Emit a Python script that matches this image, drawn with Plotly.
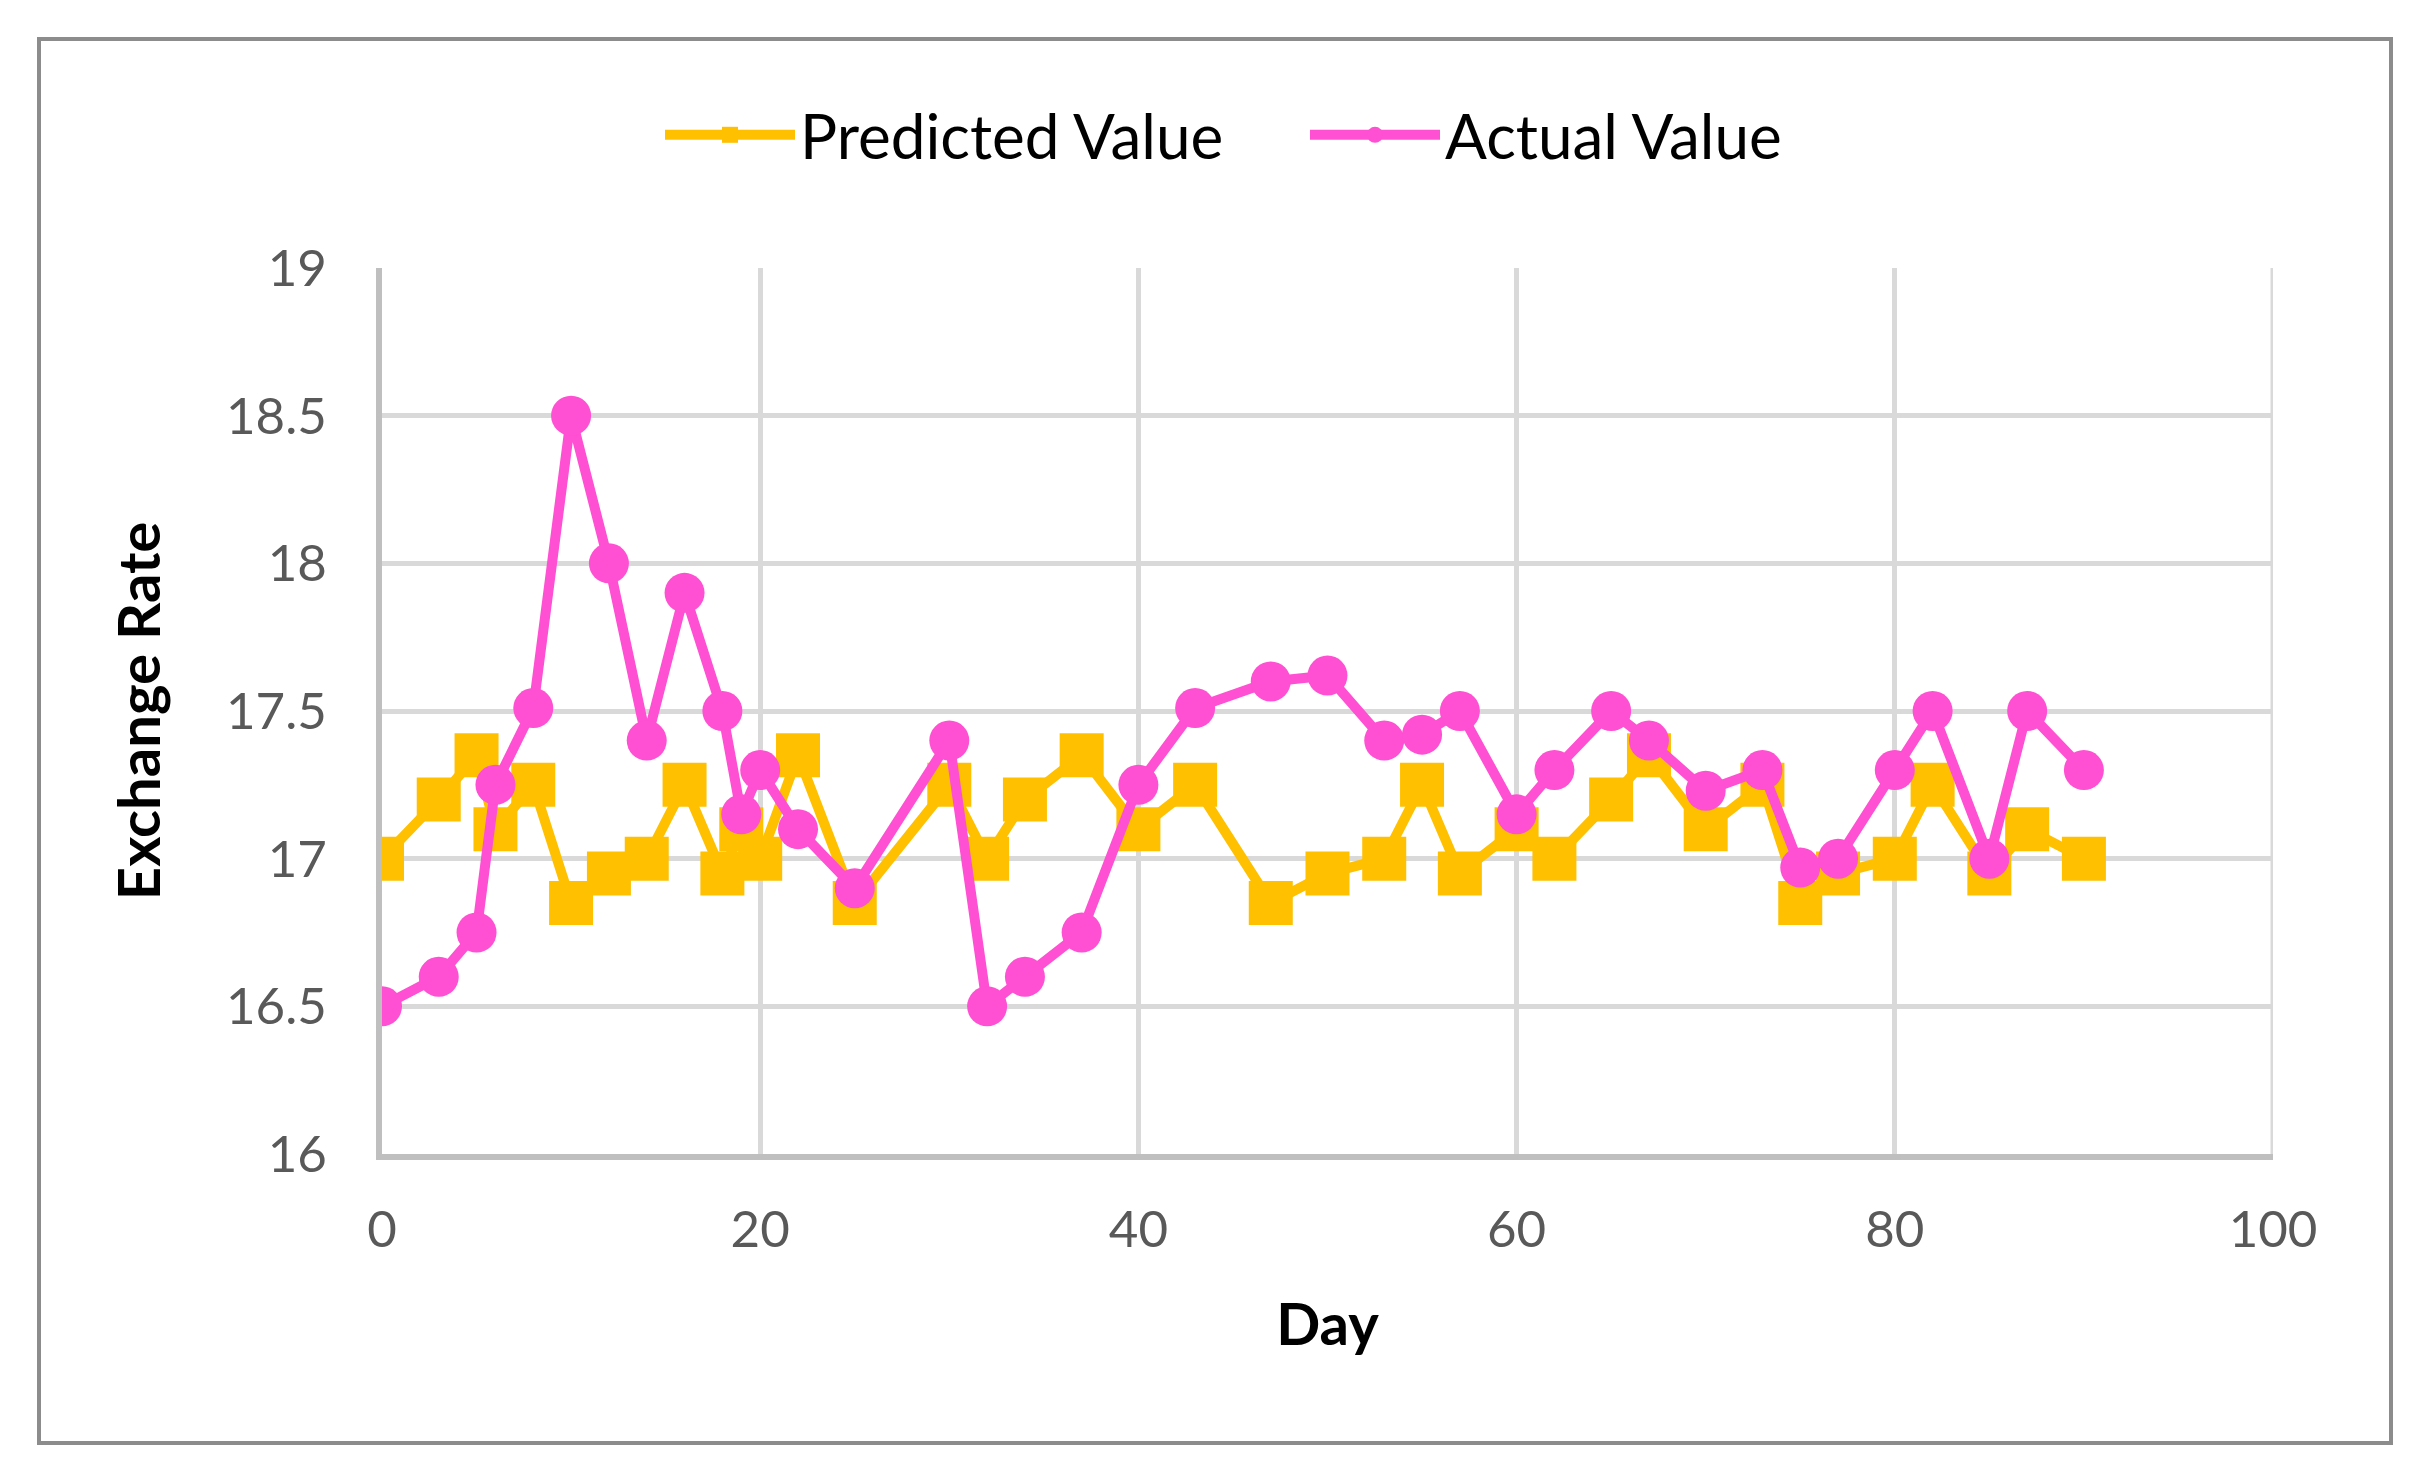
import plotly.graph_objects as go

# Day index shared by both series
days = [0, 3, 5, 6, 8, 10, 12, 14, 16, 18, 19, 20, 22, 25, 30, 32, 34, 37, 40,
        43, 47, 50, 53, 55, 57, 60, 62, 65, 67, 70, 73, 75, 77, 80, 82, 85, 87, 90]

predicted = [17.0, 17.2, 17.35, 17.1, 17.25, 16.85, 16.95, 17.0, 17.25, 16.95,
             17.1, 17.0, 17.35, 16.85, 17.25, 17.0, 17.2, 17.35, 17.1, 17.25,
             16.85, 16.95, 17.0, 17.25, 16.95, 17.1, 17.0, 17.2, 17.35, 17.1,
             17.25, 16.85, 16.95, 17.0, 17.25, 16.95, 17.1, 17.0]

actual = [16.5, 16.6, 16.75, 17.25, 17.51, 18.5, 18.0, 17.4, 17.9, 17.5,
          17.15, 17.3, 17.1, 16.9, 17.4, 16.5, 16.6, 16.75, 17.25, 17.51,
          17.6, 17.62, 17.4, 17.42, 17.5, 17.15, 17.3, 17.5, 17.4, 17.23,
          17.3, 16.97, 17.0, 17.3, 17.5, 17.0, 17.5, 17.3]

x_ticks = [0, 20, 40, 60, 80, 100]
y_ticks = [16, 16.5, 17, 17.5, 18, 18.5, 19]

YELLOW = "#FFC000"
PINK = "#FF4FD2"
FONT = "Lato"
GRID = "#D9D9D9"

# page body has an 8px margin, so the figure is shrunk to fit the window
W, H = 2417, 1463
OFF = 8
L, R, T, B = 374, 152, 260, 317
plot_w = W - L - R
plot_h = H - T - B

fig = go.Figure()

fig.add_trace(go.Scatter(
    x=days, y=predicted, name="Predicted Value",
    mode="lines+markers",
    line=dict(color=YELLOW, width=10),
    marker=dict(symbol="square", size=44, color=YELLOW),
))

fig.add_trace(go.Scatter(
    x=days, y=actual, name="Actual Value",
    mode="lines+markers",
    line=dict(color=PINK, width=10),
    marker=dict(symbol="circle", size=40, color=PINK),
))

fig.update_xaxes(
    range=[0, 100], tickvals=x_ticks,
    showgrid=True, gridcolor=GRID, gridwidth=5,
    showline=True, linecolor="#BFBFBF", linewidth=6,
    zeroline=False,
    ticks="outside", ticklen=26, tickcolor="rgba(0,0,0,0)",
    tickfont=dict(family=FONT, size=51, color="#595959"),
    title=dict(text="<b>Day</b>", font=dict(family=FONT, size=58, color="black"),
               standoff=49),
)

fig.update_yaxes(
    range=[16, 19], tickvals=y_ticks, ticktext=[f"{v:g}" for v in y_ticks],
    showgrid=True, gridcolor=GRID, gridwidth=5,
    showline=True, linecolor="#BFBFBF", linewidth=6,
    zeroline=False,
    ticks="outside", ticklen=39, tickcolor="rgba(0,0,0,0)",
    tickfont=dict(family=FONT, size=51, color="#595959"),
    title=dict(text="<b>Exchange Rate</b>", font=dict(family=FONT, size=58, color="black"),
               standoff=49),
)

# gridline at the right edge (x = 100), which plotly skips at the range end
fig.add_vline(x=x_ticks[-1], line=dict(color=GRID, width=5), layer="below")

# outer chart frame (window pixel coordinates converted to paper)
fx0, fx1, fy0, fy1 = 39, 2391, 39, 1443
fig.add_shape(type="rect", xref="paper", yref="paper",
              x0=(fx0 - OFF - L) / plot_w, x1=(fx1 - OFF - L) / plot_w,
              y0=(H - B + OFF - fy1) / plot_h, y1=(H - B + OFF - fy0) / plot_h,
              line=dict(color="#8C8C8C", width=4), layer="below")

fig.update_layout(
    width=W, height=H,
    margin=dict(l=L, r=R, t=T, b=B),
    paper_bgcolor="white", plot_bgcolor="white",
    font=dict(family=FONT),
    legend=dict(
        orientation="h", x=(1305 - OFF - L) / plot_w, y=(H - B + OFF - 135) / plot_h,
        xanchor="center", yanchor="middle",
        font=dict(family=FONT, size=62, color="black"),
        itemwidth=130, entrywidth=500, tracegroupgap=0,
    ),
    showlegend=True,
)

fig.write_html("out.html")
